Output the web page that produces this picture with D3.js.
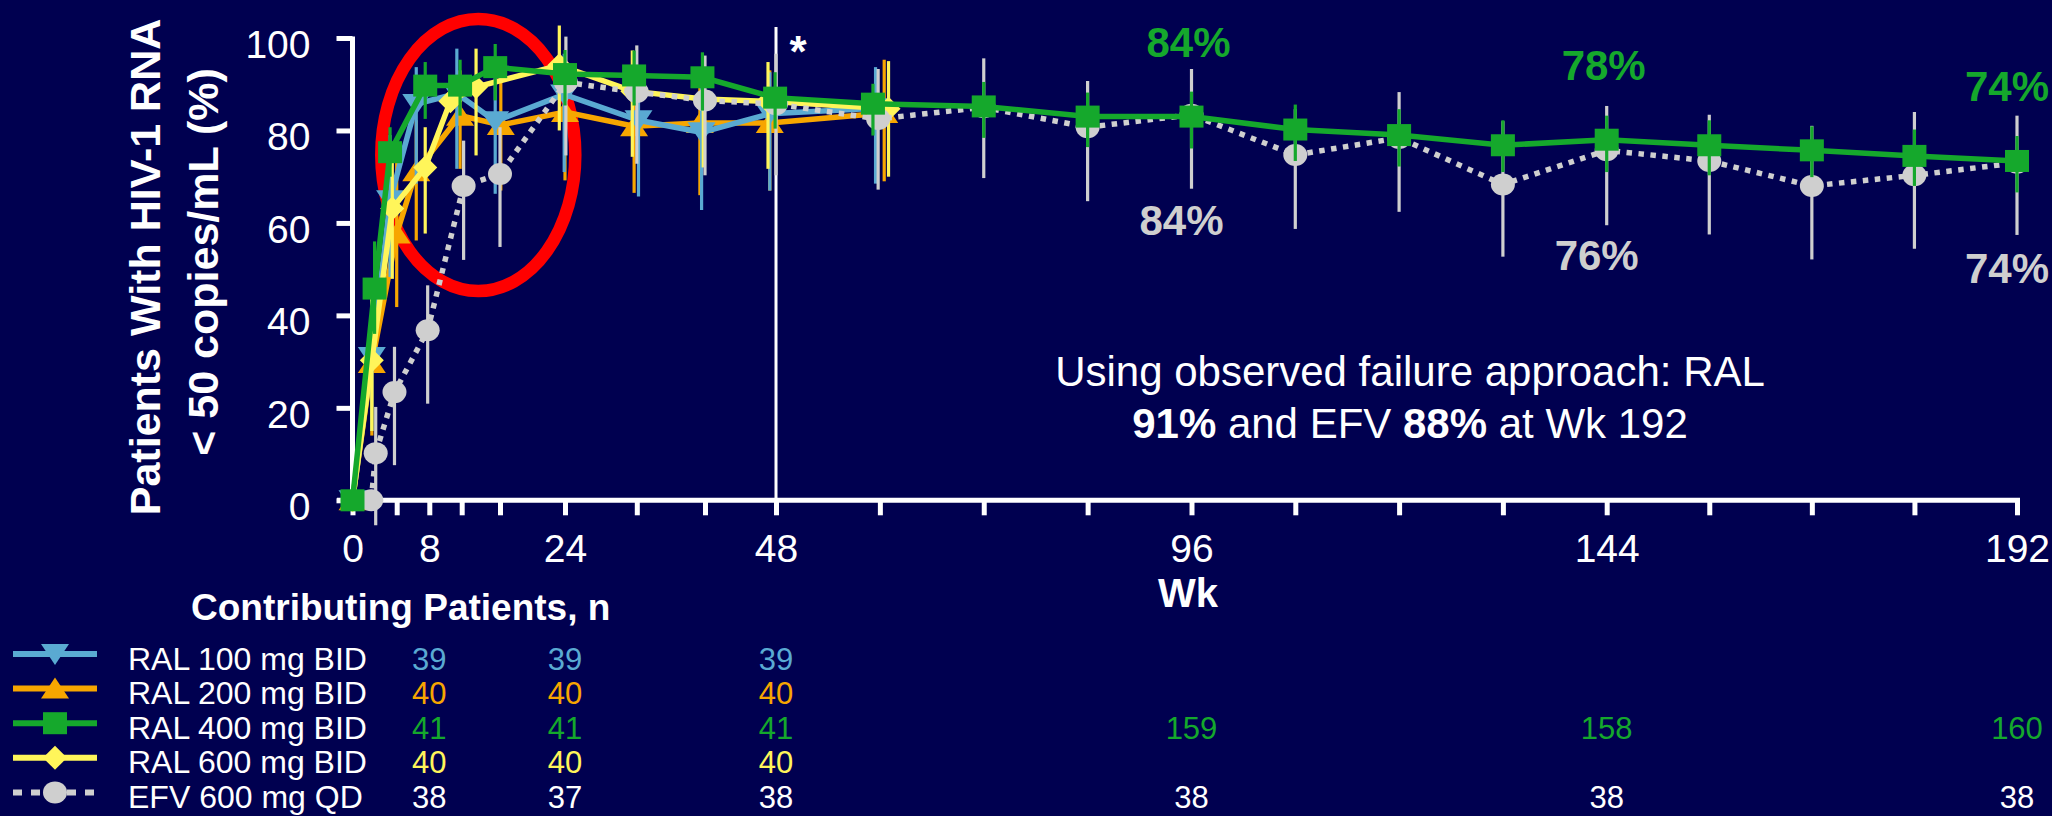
<!DOCTYPE html>
<html>
<head>
<meta charset="utf-8">
<script src="https://cdn.jsdelivr.net/npm/d3@7"></script>
<style>
  html, body { margin: 0; padding: 0; background: #000050; }
  svg { display: block; }
  text { font-family: "Liberation Sans", Arial, Helvetica, sans-serif; }
</style>
</head>
<body>
<svg id="chart" width="2052" height="816"></svg>
<script>
// ---------------- DATA ----------------
// x = study week, pct = % of patients with HIV-1 RNA < 50 copies/mL, lo/hi = error bar ends
const ral100Weeks = [0, 1.75, 3.4, 6.4, 11.4, 15.5, 23.9, 32.2, 39.6, 47.3, 59.5];
const ral100Pct   = [0, 31, 64.9, 85.7, 88, 82, 87.8, 82.2, 79.6, 83.6, 84.8];
const ral100Lo    = [null, 15, 48.3, 68.5, 71.7, 66.3, 71, 65.7, 62.8, 67, 68.5];
const ral100Hi    = [null, 46, 79, 93.7, 97.7, 94.5, 96.6, 94, 93, 92.6, 93.7];

const ral200Weeks = [0, 1.75, 4, 6.4, 11.8, 16.1, 24, 31.7, 39.4, 47.3, 60.5];
const ral200Pct   = [0, 29.7, 57.7, 71.2, 83.2, 81.2, 84.0, 80.9, 81.6, 81.6, 83.8];
const ral200Lo    = [null, 14, 41.8, 56.2, 71.7, 67, 69.2, 66.5, 66, 67, 69];
const ral200Hi    = [null, 45, 73, 82.2, 93, 92, 96, 93, 93, 93, 95.3];

const ral400Weeks = [0, 2, 3.4, 7.5, 11.8, 15.5, 24, 31.7, 39.7, 47.9, 59.2, 72, 84, 96, 108, 120, 132, 144, 156, 168, 180, 192];
const ral400Pct   = [0, 45.8, 75.3, 89.7, 89.7, 93.7, 92.2, 91.9, 91.5, 87.1, 85.8, 85.2, 83.0, 83.0, 80.2, 79.0, 76.8, 78.0, 76.8, 75.7, 74.5, 73.4];
const ral400Lo    = [null, 36, 70, 82.5, 83.2, 86.5, 85.4, 85.4, 84.3, 80.4, 78.9, 78.4, 76.4, 76.1, 73.4, 72.2, 71.0, 71.0, 70.3, 69.9, 68.0, 66.6];
const ral400Hi    = [null, 56, 80.7, 94.8, 95.3, 98.7, 97.4, 97.3, 96.9, 92.6, 90.1, 90.5, 88.2, 88.4, 85.6, 84.6, 82.2, 83.2, 82.2, 80.9, 80.2, 78.8];

const ral600Weeks = [0, 1.75, 3.6, 7.5, 10.6, 13.5, 23.3, 31.5, 39.8, 47.1, 61];
const ral600Pct   = [0, 30.3, 63.1, 72.0, 86.3, 89.4, 94.1, 88.5, 86.8, 86.3, 84.7];
const ral600Lo    = [null, 15, 47.9, 57.7, null, 74.6, 80, 74.3, 72, 71.7, 70];
const ral600Hi    = [null, 46, 77, 80.7, null, 97.7, 102.7, 97.3, 96, 94.8, 95];

const efvWeeks = [1.7, 2.1, 3.8, 7.8, 12.2, 16, 24.1, 32, 40, 48, 59.8, 72, 84, 96, 108, 120, 132, 144, 156, 168, 180, 192];
const efvPct   = [0, 10.2, 23.4, 36.8, 68, 70.6, 90.4, 88.3, 86.5, 85.7, 82.5, 85.0, 80.7, 83.4, 74.7, 78.4, 68.3, 75.7, 73.4, 68, 70.3, 73];
const efvLo    = [null, -5.4, 7.6, 20.9, 52, 54.8, 74.6, 72.8, 70.3, 70.3, 67.2, 69.7, 64.7, 67.4, 58.7, 62.4, 52.7, 59.5, 57.5, 52.1, 54.4, 57.4];
const efvHi    = [null, 20.2, 33.2, 46.5, 77.8, 80.7, 100.3, 98.4, 96.2, 96.6, 93.3, 95.6, 90.7, 93.3, 84.6, 88.3, 82, 85.3, 83.4, 81, 84, 83.2];

// axis ticks
const xTickWeeks    = [0, 4, 8, 12, 16, 24, 32, 40, 48, 60, 72, 84, 96, 108, 120, 132, 144, 156, 168, 180, 192];
const xLabeledWeeks = [0, 8, 24, 48, 96, 144, 192];
const yTickValues   = [0, 20, 40, 60, 80, 100];

// percentage call-outs
const calloutWeeks  = [96, 144, 192];
const ral400Callout = ["84%", "78%", "74%"];
const efvCallout    = ["84%", "76%", "74%"];

// contributing patients table
const nWeeks  = [8, 24, 48, 96, 144, 192];
const nRal100 = [39, 39, 39];
const nRal200 = [40, 40, 40];
const nRal400 = [41, 41, 41, 159, 158, 160];
const nRal600 = [40, 40, 40];
const nEfv    = [38, 37, 38, 38, 38, 38];

const legendNames = ["RAL 100 mg BID", "RAL 200 mg BID", "RAL 400 mg BID", "RAL 600 mg BID", "EFV 600 mg QD"];

// ---------------- STYLE ----------------
const BG = "#000050";
const C = { blue: "#5AAAD2", orange: "#F7A600", green: "#15A82C", yellow: "#FFF55A", gray: "#CFCFCF", red: "#FF0000" };

const W = 2052, H = 816;
const svg = d3.select("#chart");
svg.append("rect").attr("width", W).attr("height", H).attr("fill", BG);

// scales (the slide's week axis is slightly irregular, so it is calibrated on its ticks)
const x = d3.scaleLinear()
  .domain([0, 4, 8, 12, 16, 24, 32, 40, 48, 96, 144, 192])
  .range([352.5, 396.7, 429.3, 461.7, 500, 565, 636.8, 705, 776, 1191.5, 1606.7, 2017]);
const y = d3.scaleLinear().domain([0, 100]).range([500.3, 38]);

function zipSeries(weeks, pct, lo, hi) {
  return weeks.map((w, i) => ({ w, v: pct[i], lo: lo[i], hi: hi[i] }));
}

const series = [
  { key: "ral100", data: zipSeries(ral100Weeks, ral100Pct, ral100Lo, ral100Hi), color: C.blue,   marker: "down",    n: nRal100, nColor: C.blue },
  { key: "ral200", data: zipSeries(ral200Weeks, ral200Pct, ral200Lo, ral200Hi), color: C.orange, marker: "up",      n: nRal200, nColor: C.orange },
  { key: "ral400", data: zipSeries(ral400Weeks, ral400Pct, ral400Lo, ral400Hi), color: C.green,  marker: "square",  n: nRal400, nColor: C.green },
  { key: "ral600", data: zipSeries(ral600Weeks, ral600Pct, ral600Lo, ral600Hi), color: C.yellow, marker: "diamond", n: nRal600, nColor: C.yellow },
  { key: "efv",    data: zipSeries(efvWeeks, efvPct, efvLo, efvHi),             color: C.gray,   marker: "circle",  n: nEfv,    nColor: "#FFFFFF", dotted: true }
];
const drawOrder = ["ral200", "ral100", "ral600", "efv", "ral400"];

function drawMarker(g, type, cx, cy, color) {
  if (type === "square") {
    g.append("rect").attr("x", cx - 12).attr("y", cy - 11).attr("width", 24).attr("height", 22).attr("fill", color);
  } else if (type === "circle") {
    g.append("ellipse").attr("cx", cx).attr("cy", cy).attr("rx", 12).attr("ry", 11).attr("fill", color);
  } else if (type === "down") {
    g.append("path").attr("d", `M${cx - 14},${cy - 10}L${cx + 14},${cy - 10}L${cx},${cy + 11}Z`).attr("fill", color);
  } else if (type === "up") {
    g.append("path").attr("d", `M${cx - 14},${cy + 10}L${cx + 14},${cy + 10}L${cx},${cy - 11}Z`).attr("fill", color);
  } else if (type === "diamond") {
    g.append("path").attr("d", `M${cx},${cy - 12}L${cx + 12},${cy}L${cx},${cy + 12}L${cx - 12},${cy}Z`).attr("fill", color);
  }
}

// ---------------- AXES ----------------
const axisColor = "#FFFFFF";

// week-48 reference line
svg.append("line").attr("x1", x(48)).attr("x2", x(48)).attr("y1", 27).attr("y2", y(0))
  .attr("stroke", axisColor).attr("stroke-width", 3);
svg.append("text").attr("x", x(48) + 22).attr("y", 67).attr("text-anchor", "middle")
  .attr("font-size", 44).attr("font-weight", "bold").attr("fill", "#FFFFFF").text("*");

// x axis
const xAxis = d3.axisBottom(x).tickValues(xTickWeeks).tickSize(15).tickSizeOuter(0).tickPadding(19)
  .tickFormat(d => xLabeledWeeks.includes(d) ? d : "");
const gx = svg.append("g").attr("transform", `translate(0,${y(0)})`).call(xAxis);
gx.select(".domain").remove();
gx.selectAll(".tick line").attr("stroke", axisColor).attr("stroke-width", 5);
gx.selectAll(".tick text").attr("fill", "#FFFFFF").attr("font-size", 39)
  .attr("font-family", '"Liberation Sans", Arial, sans-serif');
svg.append("line").attr("x1", 337).attr("x2", x(192) + 3).attr("y1", y(0)).attr("y2", y(0))
  .attr("stroke", axisColor).attr("stroke-width", 5);

// y axis
const yAxis = d3.axisLeft(y).tickValues(yTickValues).tickSize(16).tickSizeOuter(0).tickPadding(26);
const gy = svg.append("g").attr("transform", `translate(${x(0)},0)`).call(yAxis);
gy.select(".domain").remove();
gy.selectAll(".tick line").attr("stroke", axisColor).attr("stroke-width", 5);
gy.selectAll(".tick text").attr("fill", "#FFFFFF").attr("font-size", 39).attr("dy", "0.5em")
  .attr("font-family", '"Liberation Sans", Arial, sans-serif');
svg.append("line").attr("x1", x(0)).attr("x2", x(0)).attr("y1", y(100) - 1.5).attr("y2", y(0) + 2.5)
  .attr("stroke", axisColor).attr("stroke-width", 5);

// axis titles
svg.append("text").attr("transform", "translate(160,267) rotate(-90)").attr("text-anchor", "middle")
  .attr("font-size", 43).attr("font-weight", "bold").attr("fill", "#FFFFFF").text("Patients With HIV-1 RNA");
svg.append("text").attr("transform", "translate(218,262) rotate(-90)").attr("text-anchor", "middle")
  .attr("font-size", 43).attr("font-weight", "bold").attr("fill", "#FFFFFF").text("< 50 copies/mL (%)");
svg.append("text").attr("x", 1188).attr("y", 607).attr("text-anchor", "middle")
  .attr("font-size", 40).attr("font-weight", "bold").attr("fill", "#FFFFFF").text("Wk");

// red highlight ellipse (behind the data)
svg.append("ellipse").attr("cx", 478.3).attr("cy", 155).attr("rx", 97).attr("ry", 136)
  .attr("fill", "none").attr("stroke", C.red).attr("stroke-width", 12.5);

// ---------------- SERIES ----------------
const line = d3.line().x(d => x(d.w)).y(d => y(d.v));
drawOrder.forEach(k => {
  const s = series.find(d => d.key === k);
  const g = svg.append("g").attr("class", "series-" + k);
  g.append("path").datum(s.data).attr("d", line).attr("fill", "none")
    .attr("stroke", s.color).attr("stroke-width", 5.5)
    .attr("stroke-dasharray", s.dotted ? "5.5,6.5" : null)
    .attr("stroke-linejoin", "miter");
  g.selectAll("line.err").data(s.data.filter(d => d.lo != null && d.hi != null)).enter()
    .append("line").attr("class", "err")
    .attr("x1", d => x(d.w)).attr("x2", d => x(d.w))
    .attr("y1", d => y(d.lo)).attr("y2", d => y(d.hi))
    .attr("stroke", s.color).attr("stroke-width", 3.2);
  s.data.forEach(d => drawMarker(g, s.marker, x(d.w), y(d.v), s.color));
});

// percentage call-outs (kept inside the canvas)
const green = series.find(d => d.key === "ral400").data;
const gray = series.find(d => d.key === "efv").data;
function placeInside(sel) {
  const bb = sel.node().getBBox();
  const over = bb.x + bb.width - (W - 3);
  if (over > 0) sel.attr("x", +sel.attr("x") - over);
}
calloutWeeks.forEach((w, i) => {
  const gp = green.find(d => d.w === w), ep = gray.find(d => d.w === w);
  const t1 = svg.append("text").attr("x", x(w) - 3).attr("y", y(gp.v) - 60).attr("text-anchor", "middle")
    .attr("font-size", 42).attr("font-weight", "bold").attr("fill", C.green).text(ral400Callout[i]);
  placeInside(t1);
  const t2 = svg.append("text").attr("x", x(w) - 10).attr("y", y(ep.v) + 120).attr("text-anchor", "middle")
    .attr("font-size", 42).attr("font-weight", "bold").attr("fill", C.gray).text(efvCallout[i]);
  placeInside(t2);
});

// note
const note = svg.append("g").attr("fill", "#FFFFFF").attr("font-size", 42);
note.append("text").attr("x", 1410).attr("y", 386).attr("text-anchor", "middle")
  .text("Using observed failure approach: RAL");
const l2 = note.append("text").attr("x", 1410).attr("y", 437.5).attr("text-anchor", "middle");
l2.append("tspan").attr("font-weight", "bold").text("91%");
l2.append("tspan").text(" and EFV ");
l2.append("tspan").attr("font-weight", "bold").text("88%");
l2.append("tspan").text(" at Wk 192");

// ---------------- LEGEND / N TABLE ----------------
svg.append("text").attr("x", 191).attr("y", 620).attr("font-size", 37).attr("font-weight", "bold")
  .attr("fill", "#FFFFFF").text("Contributing Patients, n");

series.forEach((s, i) => {
  const ry = 654 + i * 34.6;
  const g = svg.append("g").attr("class", "legend-" + s.key);
  g.append("line").attr("x1", 13).attr("x2", 97).attr("y1", ry).attr("y2", ry)
    .attr("stroke", s.color).attr("stroke-width", 6)
    .attr("stroke-dasharray", s.dotted ? "9,9" : null);
  drawMarker(g, s.marker, 55, ry, s.color);
  g.append("text").attr("x", 128).attr("y", ry + 15.5).attr("font-size", 32).attr("fill", "#FFFFFF")
    .text(legendNames[i]);
  s.n.forEach((n, j) => {
    g.append("text").attr("x", x(nWeeks[j])).attr("y", ry + 15.5).attr("text-anchor", "middle")
      .attr("font-size", 31).attr("fill", s.nColor).text(n);
  });
});
</script>
</body>
</html>
